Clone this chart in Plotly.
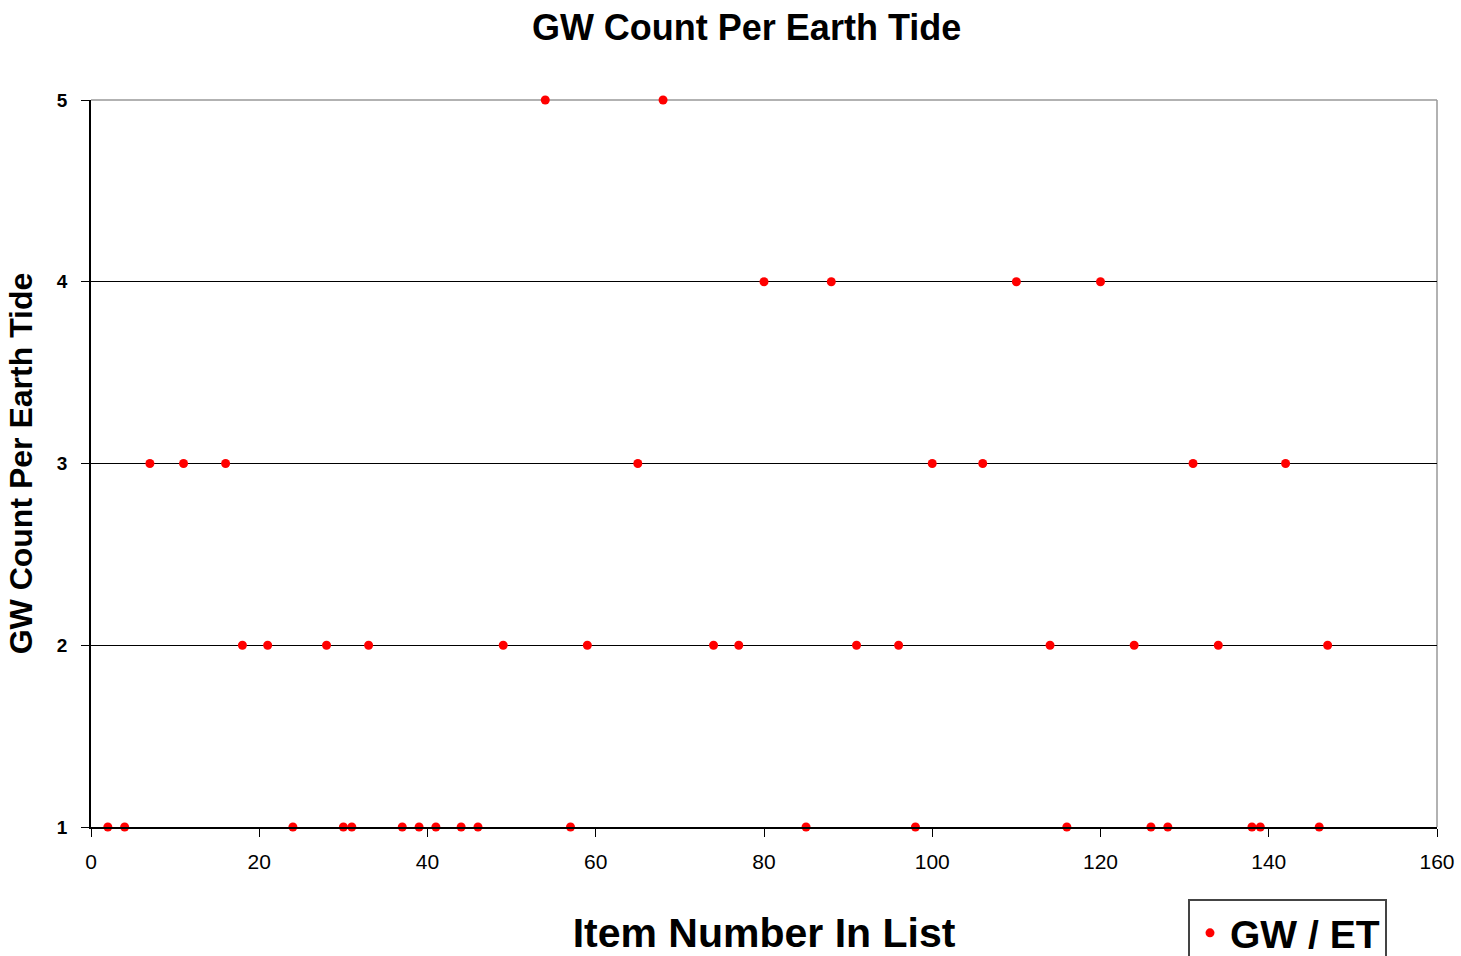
import plotly.graph_objects as go

# GW count per earth tide, by item number in list
item_numbers = [2, 4, 24, 30, 31, 37, 39, 41, 44, 46, 57, 85, 98, 116, 126, 128, 138, 139, 146,
                18, 21, 28, 33, 49, 59, 74, 77, 91, 96, 114, 124, 134, 147,
                7, 11, 16, 65, 100, 106, 131, 142,
                80, 88, 110, 120,
                54, 68]
gw_counts = [1] * 19 + [2] * 14 + [3] * 8 + [4] * 4 + [5] * 2

x_ticks = [0, 20, 40, 60, 80, 100, 120, 140, 160]
y_ticks = [1, 2, 3, 4, 5]

FONT = "Liberation Sans, Arial, sans-serif"

fig = go.Figure()
fig.add_trace(go.Scatter(
    x=item_numbers, y=gw_counts, mode="markers", name="<b>GW / ET</b>",
    marker=dict(color="#ff0000", size=9, symbol="circle"),
    cliponaxis=False,
))

# grey frame on top and right sides
fig.add_shape(type="line", xref="paper", yref="paper", x0=0, x1=1, y0=1, y1=1,
              line=dict(color="#999999", width=1.5), layer="between")
fig.add_shape(type="line", xref="paper", yref="paper", x0=1, x1=1, y0=0, y1=1,
              line=dict(color="#999999", width=1.5), layer="between")

fig.update_layout(
    width=1461, height=956,
    paper_bgcolor="white", plot_bgcolor="white",
    margin=dict(l=91, r=24, t=100, b=129, autoexpand=False),
    font=dict(family=FONT, color="black"),
    title=dict(text="<b>GW Count Per Earth Tide</b>", x=0.511, xanchor="center",
               y=1 - 27 / 956, yanchor="middle", font=dict(size=36)),
    xaxis=dict(range=[0, 160], tickvals=x_ticks, showgrid=False, zeroline=False,
               showline=True, linecolor="black", linewidth=1.5, automargin=False,
               ticks="outside", ticklen=8, tickcolor="black",
               tickfont=dict(size=21), ticklabelstandoff=7,
               title=dict(text="<b>Item Number In List</b>", font=dict(size=41), standoff=54)),
    yaxis=dict(range=[1, 5], tickvals=y_ticks, showgrid=True, gridcolor="black", gridwidth=1.2,
               zeroline=False, showline=True, linecolor="black", linewidth=1.5, automargin=False,
               ticks="outside", ticklen=8, tickcolor="black",
               tickfont=dict(size=19, weight="bold"), ticklabelstandoff=10,
               title=dict(text="<b>GW Count Per Earth Tide</b>", font=dict(size=32), standoff=15)),
    showlegend=True,
    legend=dict(xref="container", yref="container", x=1188 / 1461, y=1 - 899 / 956,
                xanchor="left", yanchor="top",
                bordercolor="#444444", borderwidth=2, bgcolor="white",
                font=dict(size=39), itemwidth=30),
)

fig.write_html("out.html", config={"displayModeBar": False},
               post_script="document.body.style.margin='0';document.body.style.overflow='hidden';")
